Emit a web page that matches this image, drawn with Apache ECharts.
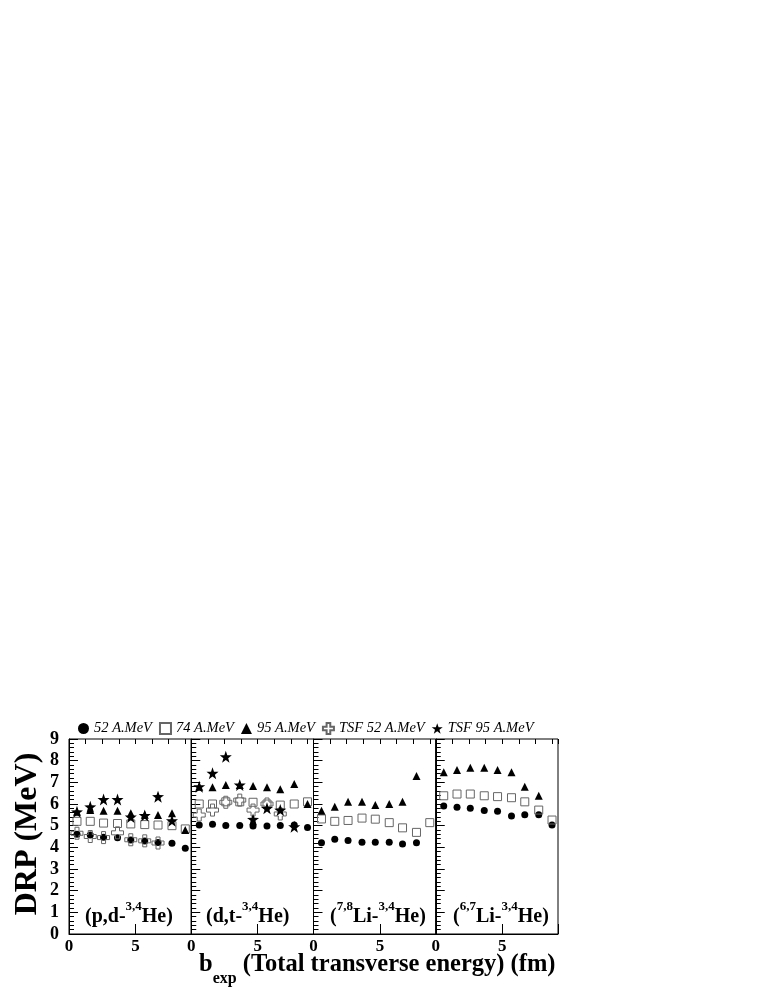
<!DOCTYPE html>
<html>
<head>
<meta charset="utf-8">
<script src="https://cdn.jsdelivr.net/npm/echarts@6/dist/echarts.min.js"></script>
<style>
html,body{margin:0;padding:0;background:#fff;}
#c{width:763px;height:987px;}
</style>
</head>
<body>
<div id="c"></div>
<script>
// ---- data ----
const xPos = [0.6, 1.6, 2.6, 3.65, 4.65, 5.7, 6.7, 7.75, 8.75];
const seriesNames = ['52 A.MeV', '74 A.MeV', '95 A.MeV', 'TSF 52 A.MeV', 'TSF 95 A.MeV'];
const xTickLabels = [0, 5];
const yTickLabels = [0, 1, 2, 3, 4, 5, 6, 7, 8, 9];

// panel 1 (p,d - 3,4He)
const p1_52 = [4.6, 4.57, 4.46, 4.44, 4.34, 4.29, 4.22, 4.19, 3.96];
const p1_74 = [5.2, 5.2, 5.12, 5.1, 5.08, 5.05, 5.03, 5.0, 4.85];
const p1_95 = [5.64, 5.72, 5.69, 5.69, 5.57, 5.5, 5.49, 5.57, 4.8];
const p1_tsf52 = [4.65, 4.5, 4.45, 4.67, 4.35, 4.3, 4.2];
const p1_tsf95 = [5.64, 5.87, 6.21, 6.21, 5.4, 5.47, 6.34, 5.23];
// panel 2 (d,t - 3,4He)
const p2_52 = [5.03, 5.06, 5.01, 5.01, 4.98, 4.98, 5.01, 5.03, 4.92];
const p2_74 = [6.0, 6.0, 6.1, 6.1, 6.08, 6.0, 5.95, 6.0, 6.1];
const p2_95 = [6.8, 6.77, 6.88, 6.88, 6.83, 6.77, 6.68, 6.92, 6.0];
const p2_tsf52 = [5.49, 5.72, 6.08, 6.18, 5.72, 6.0, 5.54];
const p2_tsf95 = [6.8, 7.42, 8.18, 6.88, 5.29, 5.8, 5.72, 4.95];
// panel 3 (7,8Li - 3,4He)
const p3_52 = [4.21, 4.37, 4.31, 4.23, 4.23, 4.23, 4.15, 4.21];
const p3_74 = [5.31, 5.2, 5.24, 5.35, 5.3, 5.14, 4.9, 4.69, 5.14];
const p3_95 = [5.69, 5.87, 6.1, 6.1, 5.95, 6.0, 6.1, 7.29];
// panel 4 (6,7Li - 3,4He)
const p4_52 = [5.91, 5.85, 5.8, 5.7, 5.66, 5.45, 5.5, 5.5, 5.03];
const p4_74 = [6.38, 6.46, 6.46, 6.38, 6.34, 6.29, 6.1, 5.72, 5.26];
const p4_95 = [7.46, 7.57, 7.67, 7.67, 7.57, 7.46, 6.8, 6.38];

const panels = [
  [p1_52, p1_74, p1_95, p1_tsf52, p1_tsf95],
  [p2_52, p2_74, p2_95, p2_tsf52, p2_tsf95],
  [p3_52, p3_74, p3_95, [], []],
  [p4_52, p4_74, p4_95, [], []]
];

// panel annotations: [text, isSuperscript]
const panelLabels = [
  [['(p,d-', 0], ['3,4', 1], ['He)', 0]],
  [['(d,t-', 0], ['3,4', 1], ['He)', 0]],
  [['(', 0], ['7,8', 1], ['Li-', 0], ['3,4', 1], ['He)', 0]],
  [['(', 0], ['6,7', 1], ['Li-', 0], ['3,4', 1], ['He)', 0]]
];

// ---- styles ----
const SERIF = "'Liberation Serif', 'DejaVu Serif', serif";
const STAR = 'path://M0,-10L2.35,-3.24L9.51,-3.09L3.8,1.24L5.88,8.09L0,4L-5.88,8.09L-3.8,1.24L-9.51,-3.09L-2.35,-3.24Z';
const CROSS = 'path://M-1,-3L1,-3L1,-1L3,-1L3,1L1,1L1,3L-1,3L-1,1L-3,1L-3,-1L-1,-1Z';
const styles = [
  {symbol: 'circle', size: 7, itemStyle: {color: '#000', opacity: 1}},
  {symbol: 'rect', size: 8, itemStyle: {color: 'rgba(0,0,0,0)', borderColor: '#666', borderWidth: 1, opacity: 1}},
  {symbol: 'triangle', size: 8, itemStyle: {color: '#000', opacity: 1}},
  {symbol: CROSS, size: 12, itemStyle: {color: 'rgba(0,0,0,0)', borderColor: '#666', borderWidth: 1, opacity: 1}},
  {symbol: STAR, size: 12, itemStyle: {color: '#000', opacity: 1}}
];
const drawOrder = [1, 0, 3, 2, 4];

const L0 = 69, PW = 122.25, TOP = 739, H = 195;
const grid = [], xAxis = [], yAxis = [], series = [];
for (let i = 0; i < 4; i++) {
  grid.push({left: L0 + i * PW, top: TOP, width: PW, height: H, show: true, borderColor: '#000', borderWidth: 1, containLabel: false});
  xAxis.push({
    gridIndex: i, type: 'value', min: 0, max: 9.2, interval: 5,
    axisLine: {show: true, lineStyle: {color: '#000', width: 1}},
    axisTick: {show: true, inside: true, length: 10, lineStyle: {color: '#000'}},
    axisLabel: {show: true, margin: 4, color: '#000', fontFamily: SERIF, fontWeight: 'bold', fontSize: 17,
      formatter: v => (xTickLabels.indexOf(v) >= 0 ? String(v) : '')},
    splitLine: {show: false}
  });
  xAxis.push({
    gridIndex: i, type: 'value', min: 0, max: 9.2, interval: 1.25,
    axisLine: {show: false},
    axisTick: {show: true, inside: true, length: 5, lineStyle: {color: '#000'}},
    axisLabel: {show: false}, splitLine: {show: false}
  });
  yAxis.push({
    gridIndex: i, type: 'value', min: 0, max: 9, interval: 1,
    axisLine: {show: true, lineStyle: {color: '#000', width: 1}},
    axisTick: {show: true, inside: true, length: 9, lineStyle: {color: '#000'}},
    minorTick: {show: true, splitNumber: 5, length: 5, lineStyle: {color: '#000'}},
    axisLabel: {show: i === 0, margin: 10, color: '#000', fontFamily: SERIF, fontWeight: 'bold', fontSize: 18,
      formatter: v => (yTickLabels.indexOf(v) >= 0 ? String(v) : '')},
    splitLine: {show: false}
  });
  drawOrder.forEach(k => {
    const vals = panels[i][k];
    series.push({
      type: 'scatter', name: seriesNames[k], xAxisIndex: 2 * i, yAxisIndex: i,
      symbol: styles[k].symbol, symbolSize: styles[k].size, itemStyle: styles[k].itemStyle,
      emphasis: {disabled: true},
      data: vals.map((v, j) => [xPos[j], v]), z: 3 + k, silent: true
    });
  });
}

// text measuring for composed labels
const mctx = document.createElement('canvas').getContext('2d');
function fontStr(size) { return 'bold ' + size + 'px ' + SERIF; }
function measure(t, size) { mctx.font = fontStr(size); return mctx.measureText(t).width; }
function composed(startX, midY, parts, mainSize, subSize, subDy) {
  const els = [];
  let x = startX;
  parts.forEach(([t, s]) => {
    const size = s ? subSize : mainSize;
    els.push({
      type: 'text', x: x, y: midY + (s ? subDy : 0), silent: true,
      style: {text: t, font: fontStr(size), fill: '#000', textAlign: 'left', textVerticalAlign: 'middle', align: 'left', verticalAlign: 'middle'}
    });
    x += measure(t, size);
  });
  return els;
}

const graphic = [];
const panelStarts = [85, 206, 330, 453];
panelLabels.forEach((parts, i) => {
  composed(panelStarts[i], 917, parts, 20, 13, -10).forEach(e => graphic.push(e));
});
composed(199, 965, [['b', 0], ['exp', 1], [' (Total transverse energy) (fm)', 0]], 24.5, 16, 14).forEach(e => graphic.push(e));
graphic.push({
  type: 'text', x: 28, y: 834, rotation: Math.PI / 2, silent: true,
  style: {text: 'DRP (MeV)', font: fontStr(32), fill: '#000', textAlign: 'center', textVerticalAlign: 'middle', align: 'center', verticalAlign: 'middle'}
});

const option = {
  backgroundColor: '#fff',
  animation: false,
  legend: {
    left: 78, top: 721, padding: 0, itemGap: 7, itemWidth: 11, itemHeight: 11,
    data: seriesNames.map(n => ({name: n})),
    textStyle: {fontFamily: SERIF, fontStyle: 'italic', fontSize: 14.5, color: '#000'}
  },
  grid, xAxis, yAxis, series, graphic
};
const chart = echarts.init(document.getElementById('c'), null, {renderer: 'canvas'});
chart.setOption(option);
</script>
</body>
</html>
